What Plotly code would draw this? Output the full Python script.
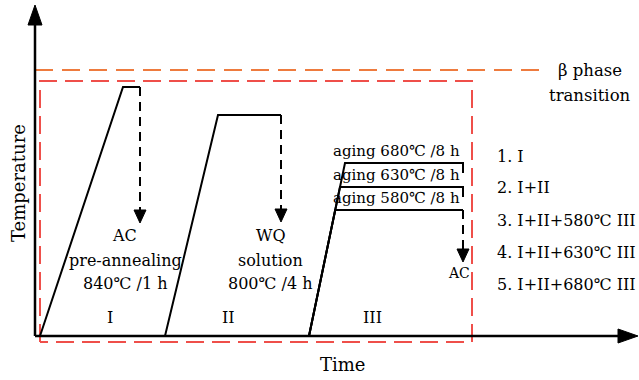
import plotly.graph_objects as go

# ---- schematic data (time units on x, temperature units on y) ----
pre_t = [5, 88, 105]          # stage I: ramp start, reach 840, end hold
pre_T = [0, 249, 249]
sol_t = [130, 183, 246]       # stage II
sol_T = [0, 221, 221]
age_labels = ["aging 580℃ /8 h", "aging 630℃ /8 h", "aging 680℃ /8 h"]
age_T = [126, 149, 173]       # 580, 630, 680 levels
age_start = 274
age_top_t = 310
age_end = 428
cool_tip_T = [113, 114, 74]   # arrow tips after I, II, III
beta_T = 266
beta_end = 510
box_t = [5, 437]
box_T = [-6, 255]
x_end = 603
y_end = 331
legend_items = ["1. I", "2. I+II", "3. I+II+580℃ III", "4. I+II+630℃ III", "5. I+II+680℃ III"]
legend_T = [180, 149, 116, 84, 52]

FONT = "DejaVu Serif"
BLK = "black"
RED = "#EF4F4A"
ORG = "#EE7B3E"

fig = go.Figure()

def line(xs, ys, color=BLK, width=2, dash="solid"):
    fig.add_trace(go.Scatter(x=xs, y=ys, mode="lines", hoverinfo="skip",
                             line=dict(color=color, width=width, dash=dash)))

def tri(tip_x, tip_y, direction, length, half):
    if direction == "down":
        xs = [tip_x - half, tip_x + half, tip_x, tip_x - half]
        ys = [tip_y + length, tip_y + length, tip_y, tip_y + length]
    elif direction == "up":
        xs = [tip_x - half, tip_x + half, tip_x, tip_x - half]
        ys = [tip_y - length, tip_y - length, tip_y, tip_y - length]
    else:  # right
        xs = [tip_x - length, tip_x - length, tip_x, tip_x - length]
        ys = [tip_y - half, tip_y + half, tip_y, tip_y - half]
    fig.add_trace(go.Scatter(x=xs, y=ys, mode="lines", fill="toself",
                             fillcolor=BLK, line=dict(color=BLK, width=1),
                             hoverinfo="skip"))

# beta transus line
line([0, beta_end], [beta_T, beta_T], color=ORG, width=2, dash="18px,9px")
# red dashed box
line([box_t[0], box_t[0], box_t[1], box_t[1], box_t[0]],
     [box_T[0], box_T[1], box_T[1], box_T[0], box_T[0]],
     color=RED, width=2, dash="18px,8px")

# axes
line([0, 0], [0, y_end - 20], width=2.5)
tri(0, y_end, "up", 20, 7)
line([0, x_end - 20], [0, 0], width=2.5)
tri(x_end, 0, "right", 20, 7)

# stage I
line(pre_t, pre_T)
line([pre_t[2], pre_t[2]], [pre_T[2], cool_tip_T[0] + 12], dash="9px,6px")
tri(pre_t[2], cool_tip_T[0], "down", 13, 6)
# stage II
line(sol_t, sol_T)
line([sol_t[2], sol_t[2]], [sol_T[2], cool_tip_T[1] + 12], dash="9px,6px")
tri(sol_t[2], cool_tip_T[1], "down", 13, 6)
# stage III
top = age_T[-1]
for i, lvl in enumerate(age_T):
    tx = age_start + (age_top_t - age_start) * lvl / top
    line([age_start, tx, age_end, age_end], [0, lvl, lvl, lvl - 10 if i > 0 else lvl])
line([age_end, age_end], [age_T[0], cool_tip_T[2] + 12], dash="9px,6px")
tri(age_end, cool_tip_T[2], "down", 13, 6)

def txt(x, y, s, size=16, xanchor="center", angle=0):
    fig.add_annotation(x=x, y=y, text=s, showarrow=False, xanchor=xanchor,
                       yanchor="middle", textangle=angle,
                       font=dict(family=FONT, size=size, color=BLK))

txt(-17, 153, "Temperature", size=18, angle=-90)
txt(307, -28, "Time", size=18)
txt(555, 266, "β phase", size=16.5)
txt(555, 241, "transition", size=16.5)
for s, y in zip(legend_items, legend_T):
    txt(460, y, s, xanchor="left")
for s, lvl in zip(age_labels, age_T):
    txt(427, lvl + 12, s, size=15, xanchor="right")
txt(424, 63, "AC", size=14)
txt(89, 101, "AC")
txt(90, 76, "pre-annealing")
txt(90, 53, "840℃ /1 h")
txt(236, 101, "WQ")
txt(235, 76, "solution")
txt(235, 53, "800℃ /4 h")
txt(75, 19, "I")
txt(193, 19, "II")
txt(337, 19, "III")

fig.update_layout(
    width=639, height=380, margin=dict(l=0, r=0, t=0, b=0),
    paper_bgcolor="white", plot_bgcolor="white", showlegend=False,
    xaxis=dict(range=[-35, 604], visible=False, fixedrange=True),
    yaxis=dict(range=[-44, 336], visible=False, fixedrange=True),
)
fig.write_html("out.html")
